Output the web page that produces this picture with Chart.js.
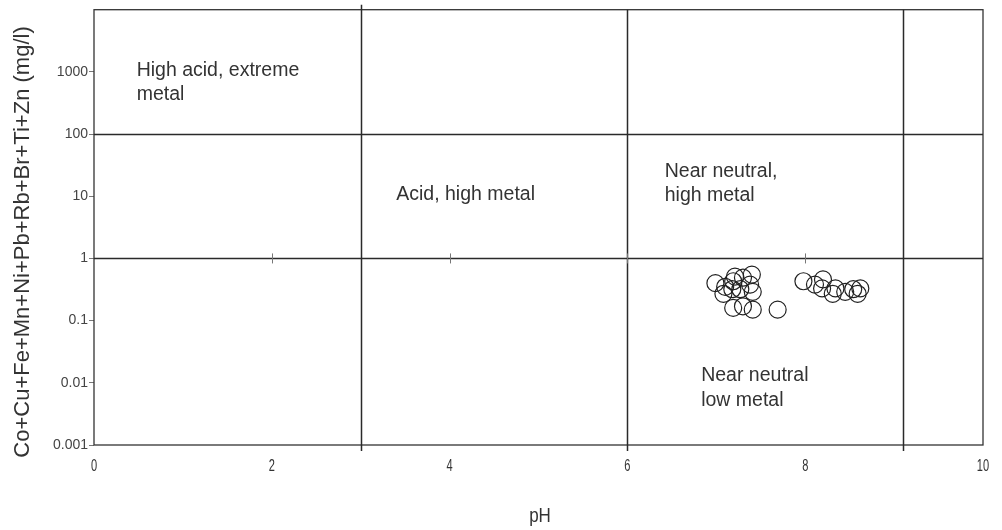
<!DOCTYPE html>
<html lang="en">
<head>
<meta charset="UTF-8">
<title>pH vs metal</title>
<script src="https://cdn.jsdelivr.net/npm/chart.js"></script>
<style>
  html, body { margin: 0; padding: 0; background: #fff; }
  #wrap { width: 1002px; height: 530px; }
</style>
</head>
<body>
<div id="wrap"><canvas id="chart" width="1002" height="530"></canvas></div>
<script>
// samples
const phValues = [6.99, 7.10, 7.19, 7.21, 7.30, 7.40, 7.38, 7.41, 7.27, 7.18, 7.08, 7.19, 7.30, 7.41, 7.69,
                  7.98, 8.11, 8.20, 8.19, 8.31, 8.34, 8.45, 8.54, 8.59, 8.62];
const metalValues = [0.40, 0.35, 0.43, 0.51, 0.49, 0.55, 0.38, 0.29, 0.32, 0.32, 0.27, 0.16, 0.17, 0.15, 0.15,
                     0.43, 0.38, 0.46, 0.33, 0.27, 0.33, 0.29, 0.32, 0.27, 0.33];

const yTickValues = [0.001, 0.01, 0.1, 1, 10, 100, 1000, 10000];
const yTickLabels = ['0.001', '0.01', '0.1', '1', '10', '100', '1000', ''];
const xTickLabels = ['0', '2', '4', '6', '8', '10'];
const phBoundaries = [3, 6, 9.1];
const metalBoundaries = [1, 100];
const midTicks = [2, 4, 6, 8];

const regionLabels = [
  { lines: ['High acid, extreme', 'metal'], ph: 0.48, conc: 1050 },
  { lines: ['Acid, high metal'], ph: 3.40, conc: 10.8 },
  { lines: ['Near neutral,', 'high metal'], ph: 6.42, conc: 25 },
  { lines: ['Near neutral', 'low metal'], ph: 6.83, conc: 0.013 }
];

const FONT = '"Liberation Sans", Arial, sans-serif';

// draw text squeezed sideways, the source looks condensed
function narrowText(ctx, t, x, y, sx) {
  ctx.save();
  ctx.translate(x, y);
  ctx.scale(sx, 1);
  ctx.fillText(t, 0, 0);
  ctx.restore();
}

const frame = {
  id: 'frame',
  afterDatasetsDraw(chart) {
    const { ctx, chartArea: a, scales: { x, y } } = chart;
    ctx.save();
    ctx.strokeStyle = '#333';
    ctx.lineWidth = 1.3;
    ctx.strokeRect(a.left, a.top, a.right - a.left, a.bottom - a.top);

    // boundaries
    ctx.lineWidth = 1.5;
    ctx.strokeStyle = '#2a2a2a';
    phBoundaries.forEach((v, i) => {
      const px = Math.round(x.getPixelForValue(v)) + 0.5;
      ctx.beginPath();
      ctx.moveTo(px, a.top - (i === 0 ? 5 : 0));
      ctx.lineTo(px, a.bottom + 6);
      ctx.stroke();
    });
    metalBoundaries.forEach(v => {
      const py = Math.round(y.getPixelForValue(v)) + 0.5;
      ctx.beginPath();
      ctx.moveTo(a.left, py);
      ctx.lineTo(a.right, py);
      ctx.stroke();
    });

    // little ticks on the pH line at conc 1
    ctx.lineWidth = 1;
    ctx.strokeStyle = '#777';
    const py1 = y.getPixelForValue(1);
    midTicks.forEach(v => {
      const px = Math.round(x.getPixelForValue(v)) + 0.5;
      ctx.beginPath();
      ctx.moveTo(px, py1 - 5);
      ctx.lineTo(px, py1 + 5);
      ctx.stroke();
    });

    // x tick labels
    ctx.fillStyle = '#333';
    ctx.textAlign = 'center';
    ctx.textBaseline = 'middle';
    ctx.font = '17px ' + FONT;
    x.ticks.forEach((t, i) => {
      narrowText(ctx, xTickLabels[i] ?? '', x.getPixelForValue(t.value), 466, 0.65);
    });

    // region texts
    ctx.font = '19.5px ' + FONT;
    ctx.textAlign = 'left';
    regionLabels.forEach(r => {
      const px = x.getPixelForValue(r.ph);
      const py = y.getPixelForValue(r.conc);
      r.lines.forEach((t, i) => ctx.fillText(t, px, py + i * 24.5));
    });

    // axis titles
    ctx.textAlign = 'center';
    ctx.font = '20px ' + FONT;
    narrowText(ctx, 'pH', 540, 516, 0.85);
    ctx.font = '22px ' + FONT;
    ctx.translate(23, 242);
    ctx.rotate(-Math.PI / 2);
    ctx.fillText('Co+Cu+Fe+Mn+Ni+Pb+Rb+Br+Ti+Zn (mg/l)', 0, 0);
    ctx.restore();
  }
};

new Chart(document.getElementById('chart'), {
  type: 'scatter',
  data: {
    datasets: [{
      data: phValues.map((p, i) => ({ x: p, y: metalValues[i] })),
      pointStyle: 'circle',
      pointRadius: 8.5,
      pointHoverRadius: 8.5,
      backgroundColor: 'rgba(0,0,0,0)',
      borderColor: '#222',
      borderWidth: 1.2
    }]
  },
  options: {
    responsive: false,
    animation: false,
    layout: { padding: { top: 2, right: 19, left: 0, bottom: 0 } },
    plugins: { legend: { display: false }, tooltip: { enabled: false } },
    scales: {
      x: {
        type: 'linear',
        min: 0,
        max: 10,
        ticks: { stepSize: 2, display: false },
        grid: { display: false },
        border: { display: false },
        afterFit(s) { s.height = 85; }
      },
      y: {
        type: 'logarithmic',
        min: 0.001,
        max: 10000,
        afterBuildTicks(s) { s.ticks = yTickValues.map(v => ({ value: v })); },
        ticks: {
          color: '#444',
          font: { family: FONT, size: 14 },
          padding: 1,
          autoSkip: false,
          callback: (v) => yTickLabels[yTickValues.indexOf(v)] ?? ''
        },
        grid: {
          drawOnChartArea: false,
          tickLength: 5,
          tickColor: (c) => c.tick && c.tick.value === 10000 ? 'rgba(0,0,0,0)' : '#777'
        },
        border: { display: false },
        afterFit(s) { s.width = 94; }
      }
    }
  },
  plugins: [frame]
});
</script>
</body>
</html>
